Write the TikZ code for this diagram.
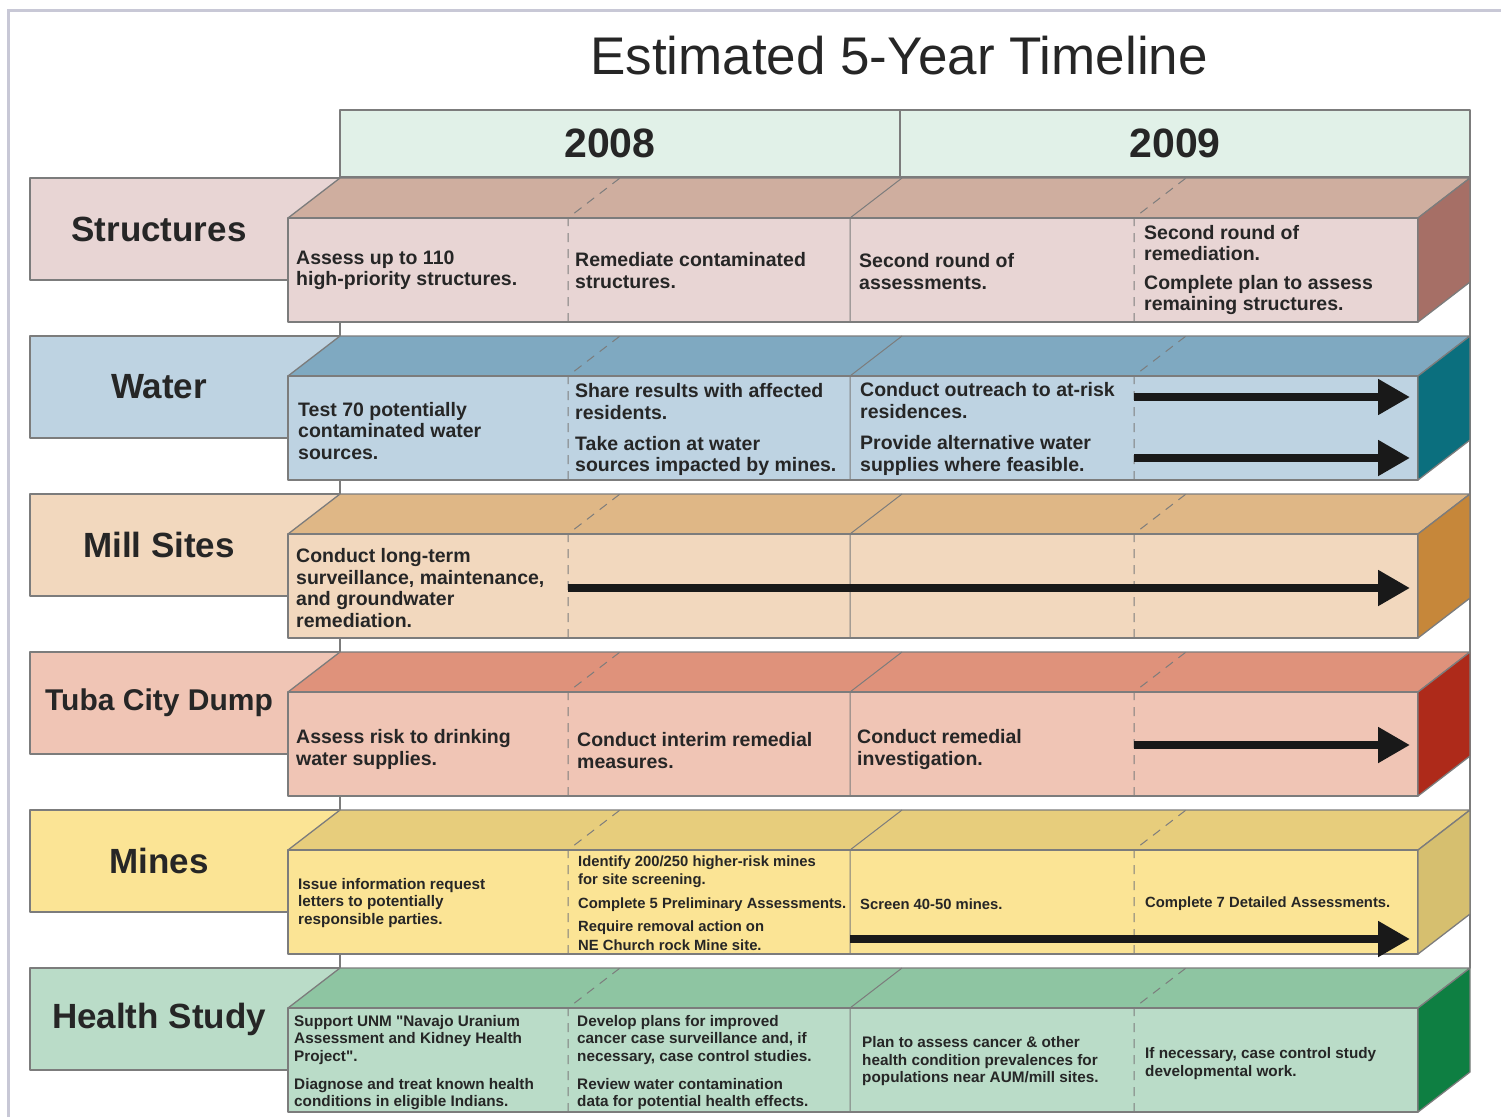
\documentclass[tikz,border=0pt]{standalone}
\usepackage{fontspec}
\setmainfont{Liberation Sans}[Ligatures=TeXOff]
\usetikzlibrary{arrows.meta}

\definecolor{txt}{HTML}{262626}
\definecolor{edge}{HTML}{7C7C7C}
\definecolor{framecol}{HTML}{C8C8D6}
\definecolor{yearfill}{HTML}{E1F1E8}
% row colours: front/label (F), top (T), side (S)
\definecolor{strF}{HTML}{E8D5D4}
\definecolor{strT}{HTML}{CFAE9F}
\definecolor{strS}{HTML}{A66F66}
\definecolor{watF}{HTML}{BED3E2}
\definecolor{watT}{HTML}{7FA9C1}
\definecolor{watS}{HTML}{0B6F7E}
\definecolor{milF}{HTML}{F2D8BE}
\definecolor{milT}{HTML}{DFB786}
\definecolor{milS}{HTML}{C6873A}
\definecolor{tubF}{HTML}{F0C5B5}
\definecolor{tubT}{HTML}{DF927B}
\definecolor{tubS}{HTML}{AE2A1A}
\definecolor{minF}{HTML}{FBE495}
\definecolor{minT}{HTML}{E7CD7C}
\definecolor{minS}{HTML}{D6BF6F}
\definecolor{heaF}{HTML}{BADCC8}
\definecolor{heaT}{HTML}{8EC5A2}
\definecolor{heaS}{HTML}{0E7F42}

\begin{document}
\begin{tikzpicture}[x=1pt, y=-1pt,
    face/.style={draw=edge, line width=1.3pt, line join=round},
    divline/.style={draw=edge, line width=1pt},
    cutline/.style={dash pattern=on 9pt off 7pt},
    solidline/.style={solid},
    seg/.style={anchor=west, align=left, inner sep=0pt, text=txt, yshift=-2pt,
      font=\bfseries\fontsize{19.5}{21.5}\selectfont},
    segsmall/.style={seg, font=\bfseries\fontsize{15.3}{17.5}\selectfont},
    segtiny/.style={seg, font=\bfseries\fontsize{14.8}{18.5}\selectfont},
    bigarrow/.style={line width=8pt, -{Triangle[length=32pt,width=34pt]}, black!90}]

  \useasboundingbox (0,0) rectangle (1501,1117);

  % frame and grid lines
  \draw[framecol, line width=3pt] (8,1117) -- (8,10) -- (1501,10);
  \draw[edge, line width=1.3pt] (340,110) -- (340,1070) (1470,110) -- (1470,968);

  % title and years
  \node[font=\fontsize{53}{60}\selectfont, text=txt] (title) at (899,56) {Estimated 5-Year Timeline};
  \draw[face, fill=yearfill] (340,110) rectangle (1470,177);
  \draw[face] (900,110) -- (900,177);
  \node[font=\bfseries\fontsize{41}{48}\selectfont, text=txt] (y2008) at (610,143) {2008};
  \node[font=\bfseries\fontsize{41}{48}\selectfont, text=txt] (y2009) at (1175,143) {2009};

  % rows
  \foreach [count=\i] \y/\col/\t/\fs in {178/str/Structures/35, 336/wat/Water/35, 494/mil/Mill Sites/35,
      652/tub/Tuba City Dump/30, 810/min/Mines/35, 968/hea/Health Study/35} {
    \draw[face, fill=\col F] (30,\y) rectangle (340,\y+102);
    \node[font=\bfseries\fontsize{\fs}{\fs}\selectfont, text=txt] (lab\i) at (159,\y+51) {\t};
    \draw[face, fill=\col T] (288,\y+40) -- (340,\y) -- (1470,\y) -- (1418,\y+40) -- cycle;
    \draw[face, fill=\col F] (288,\y+40) rectangle (1418,\y+144);
    \draw[face, fill=\col S] (1418,\y+40) -- (1470,\y) -- (1470,\y+104) -- (1418,\y+144) -- cycle;
    \foreach \d/\s in {568/cutline, 850/solidline, 1134/cutline}
      \draw[divline, \s] (\d,\y+144) -- (\d,\y+40) -- (\d+52,\y);
  }

  % Structures
  \node[seg] (s1) at (296,268.5) {Assess up to 110\\high-priority structures.};
  \node[seg] (s2) at (575,268.5) {Remediate contaminated\\structures.};
  \node[seg] (s3) at (859,269.5) {Second round of\\assessments.};
  \node[seg] (s4) at (1144,268) {Second round of\\remediation.\\[7pt]Complete plan to assess\\remaining structures.};

  % Water
  \node[seg] (w1) at (298,429) {Test 70 potentially\\contaminated water\\sources.};
  \node[seg] (w2) at (575,427.5) {Share results with affected\\residents.\\[9.5pt]Take action at water\\sources impacted by mines.};
  \node[seg] (w3) at (860,427) {Conduct outreach to at-risk\\residences.\\[10pt]Provide alternative water\\supplies where feasible.};

  % Mill Sites
  \node[seg] (m1) at (296,586) {Conduct long-term\\surveillance, maintenance,\\and groundwater\\remediation.};

  % Tuba City Dump
  \node[seg] (t1) at (296,747.5) {Assess risk to drinking\\water supplies.};
  \node[seg] (t2) at (577,748.5) {Conduct interim remedial\\measures.};
  \node[seg] (t3) at (857,747.5) {Conduct remedial\\investigation.};

  % Mines
  \node[segsmall] (n1) at (298,901) {Issue information request\\letters to potentially\\responsible parties.};
  \node[segtiny] (n2) at (578,901) {Identify 200/250 higher-risk mines\\for site screening.\\[5pt]Complete 5 Preliminary Assessments.\\[5pt]Require removal action on\\NE Church rock Mine site.};
  \node[segtiny] (n3) at (860,902) {Screen 40-50 mines.};
  \node[segtiny] (n4) at (1145,902) {Complete 7 Detailed Assessments.};

  % Health Study
  \node[segsmall] (h1) at (294,1060.5) {Support UNM "Navajo Uranium\\Assessment and Kidney Health\\Project".\\[10.5pt]Diagnose and treat known health\\conditions in eligible Indians.};
  \node[segsmall] (h2) at (577,1060.5) {Develop plans for improved\\cancer case surveillance and, if\\necessary, case control studies.\\[10.5pt]Review water contamination\\data for potential health effects.};
  \node[segsmall] (h3) at (862,1059.5) {Plan to assess cancer \& other\\health condition prevalences for\\populations near AUM/mill sites.};
  \node[segsmall] (h4) at (1145,1061.5) {If necessary, case control study\\developmental work.};

  % continuing arrows
  \foreach \n/\xa/\ya in {wa/1134/397, wb/1134/458, ma/568/588, ta/1134/745, na/850/939} {
    \coordinate (\n s) at (\xa,\ya);
    \coordinate (\n e) at (1410,\ya);
    \draw[bigarrow] (\n s) -- (\n e);
  }

\end{tikzpicture}
\end{document}
